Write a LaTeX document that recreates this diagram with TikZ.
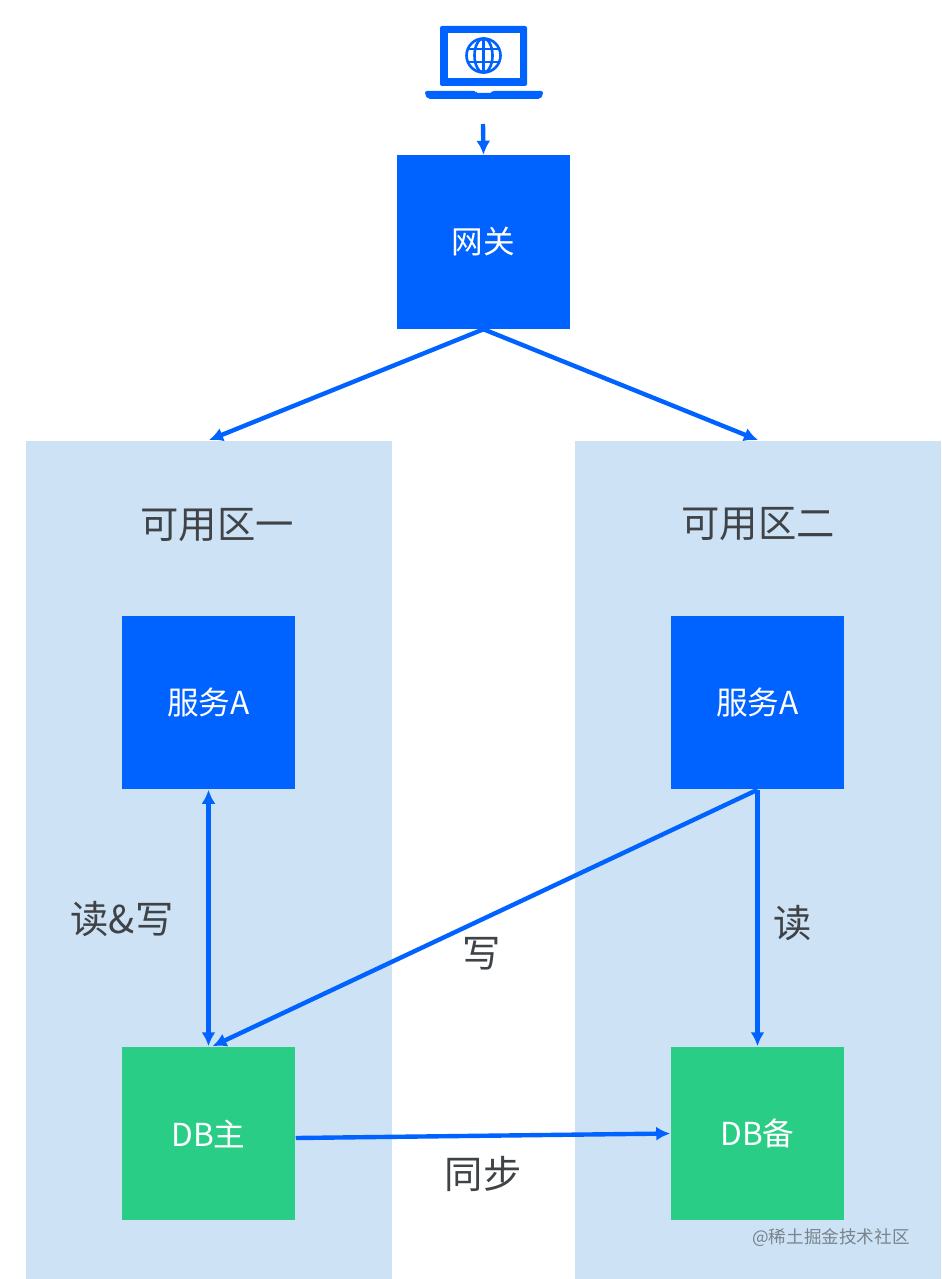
\documentclass[tikz,border=0pt]{standalone}
\usepackage{fontspec}
\setmainfont{Noto Sans CJK SC}
\usetikzlibrary{arrows.meta}
\definecolor{bluebox}{HTML}{0062FF}
\definecolor{greenbox}{HTML}{2ACD86}
\definecolor{zonefill}{HTML}{CDE3F5}
\definecolor{labelgray}{HTML}{3F4347}
\tikzset{
    zonebox/.style={fill=zonefill,inner sep=0pt,minimum width=3.66cm,minimum height=8.38cm},
    svcbox/.style={fill=bluebox,text=white,inner sep=0pt,minimum size=1.73cm,font=\fontsize{9}{9}\selectfont},
    dbbox/.style={fill=greenbox,text=white,inner sep=0pt,minimum size=1.73cm,font=\fontsize{9}{9}\selectfont},
    arrowline/.style={draw=bluebox,line width=1.25pt,-{Latex[length=0.14cm,width=0.14cm]}},
    biline/.style={draw=bluebox,line width=1.25pt,{Latex[length=0.14cm,width=0.14cm]}-{Latex[length=0.14cm,width=0.14cm]}},
    zonelabel/.style={text=labelgray,inner sep=0pt,font=\fontsize{10.9}{10.9}\selectfont},
    edgelabel/.style={text=labelgray,inner sep=0pt,font=\fontsize{10.9}{10.9}\selectfont},
    globeline/.style={draw=bluebox,line width=0.75pt}
}
\begin{document}
\begin{tikzpicture}[x=0.01cm,y=-0.01cm]
    \useasboundingbox (0,0) rectangle (941,1279);

    %zone
    \node[zonebox] (zone1) at (209,860) {};
    \node[zonebox] (zone2) at (758,860) {};
    \node[zonelabel] (title1) at (217,525) {可用区一};
    \node[zonelabel] (title2) at (758,524) {可用区二};

    %laptop
    \fill[bluebox,rounded corners=0.02cm] (440,86) -- (440,26) -- (527,26) -- (527,86) -- cycle;
    \fill[white] (448,33) rectangle (520,78);
    \fill[bluebox,rounded corners=0.02cm] (425,91) -- (476,91) -- (476,93) -- (492,93) -- (492,91) -- (543,91) -- (543,95) -- (540,99) -- (428,99) -- (425,95) -- cycle;
    \draw[globeline] (483.5,55.5) circle (17);
    \draw[globeline] (483.5,55.5) ellipse (9 and 17);
    \draw[globeline] (483.5,39) -- (483.5,72);
    \draw[globeline] (469,49) -- (498,49);
    \draw[globeline] (469,62) -- (498,62);
    \coordinate (pc) at (483,124);

    %boxes
    \node[svcbox] (gw) at (483.5,242) {网关};
    \node[svcbox] (svc1) at (208.5,702.5) {服务A};
    \node[svcbox] (svc2) at (757.5,702.5) {服务A};
    \node[dbbox] (db1) at (208.5,1133.5) {DB主};
    \node[dbbox] (db2) at (757.5,1133.5) {DB备};

    \draw[arrowline] (pc) -- (gw.north);
    \draw[arrowline] (gw.south) -- (zone1.north);
    \draw[arrowline] (gw.south) -- (zone2.north);
    \draw[biline] (svc1.south) -- (db1.north);
    \draw[arrowline] (svc2.south) -- ([xshift=0.04cm]db1.north);
    \draw[arrowline] (svc2.south) -- (db2.north);
    \draw[arrowline] ([yshift=-0.045cm]db1.east) -- (db2.west);

    %labels
    \node[edgelabel] (rw) at (122,919) {读\&写};
    \node[edgelabel] (w) at (482,954) {写};
    \node[edgelabel] (r) at (793,923) {读};
    \node[edgelabel] (sync) at (483,1174) {同步};
    \node[text=labelgray!60!zonefill,inner sep=0pt,font=\fontsize{5}{5}\selectfont] (mark) at (831,1238) {@稀土掘金技术社区};

\end{tikzpicture}
\end{document}
